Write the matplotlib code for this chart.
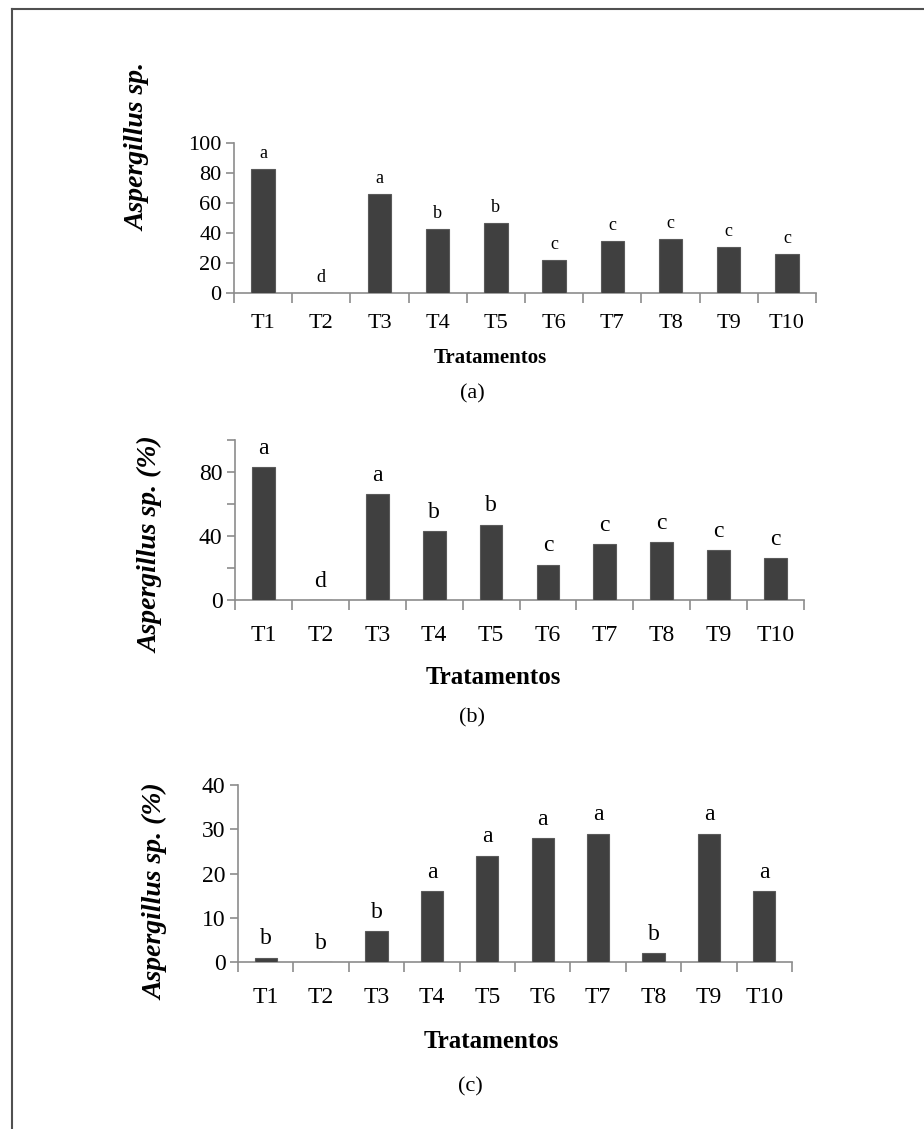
import numpy as np
import matplotlib.pyplot as plt
from matplotlib.lines import Line2D

# treatments
treatments = ['T1', 'T2', 'T3', 'T4', 'T5', 'T6', 'T7', 'T8', 'T9', 'T10']

# panel (a)
values_a = [83, 0, 66, 43, 47, 22, 35, 36, 31, 26]
letters_a = ['a', 'd', 'a', 'b', 'b', 'c', 'c', 'c', 'c', 'c']

# panel (b)
values_b = [83, 0, 66, 43, 47, 22, 35, 36, 31, 26]
letters_b = ['a', 'd', 'a', 'b', 'b', 'c', 'c', 'c', 'c', 'c']

# panel (c)
values_c = [1, 0, 7, 16, 24, 28, 29, 2, 29, 16]
letters_c = ['b', 'b', 'b', 'a', 'a', 'a', 'a', 'b', 'a', 'a']

W, H = 924, 1129
fig = plt.figure(figsize=(W / 100, H / 100), dpi=100)
plt.rcParams['font.family'] = 'Liberation Serif'

bar_color = '#404040'
axis_color = '#8c8c8c'


def px_axes(left, right, top, bottom):
    return fig.add_axes([left / W, 1 - bottom / H, (right - left) / W, (bottom - top) / H])


def ftext(x, y, s, **kw):
    fig.text(x / W, 1 - y / H, s, ha='center', va='center', **kw)


def panel(ax, values, letters, ymax, step, labeled, tick_fs, letter_fs, letter_off, pad):
    x = np.arange(len(treatments))
    ax.bar(x, values, width=0.4, color=bar_color, edgecolor='#5a5a5a', linewidth=0.8, zorder=3)
    for xi, v, l in zip(x, values, letters):
        ax.annotate(l, (xi, v), xytext=(0, letter_off), textcoords='offset points',
                    ha='center', va='bottom', fontsize=letter_fs)
    ax.set_xlim(-0.5, len(treatments) - 0.5)
    ax.set_ylim(0, ymax)
    for side in ['top', 'right']:
        ax.spines[side].set_visible(False)
    for side in ['left', 'bottom']:
        ax.spines[side].set_color(axis_color)
        ax.spines[side].set_linewidth(1.2)
    ax.set_xticks(np.arange(-0.5, len(treatments), 1.0))
    ax.set_xticklabels([])
    ax.set_xticks(x, minor=True)
    ax.set_xticklabels(treatments, minor=True, fontsize=tick_fs)
    ax.tick_params(axis='x', which='major', length=7, color=axis_color, width=1.2)
    ax.tick_params(axis='x', which='minor', length=0, pad=pad)
    ticks = np.arange(0, ymax + 0.1, step)
    ax.set_yticks(ticks)
    ax.set_yticklabels([f'{t:g}' if t in labeled else '' for t in ticks], fontsize=tick_fs)
    ax.tick_params(axis='y', length=6, color=axis_color, width=1.2, pad=3)


# (a)
ax1 = px_axes(234, 816, 143, 293)
panel(ax1, values_a, letters_a, 100, 20, [0, 20, 40, 60, 80, 100], 16, 13, 5, 15)
ftext(138, 147, 'Aspergillus sp.', rotation=90, fontsize=20, fontweight='bold', style='italic')
ftext(490, 358, 'Tratamentos', fontsize=15, fontweight='bold')
ftext(472, 394, '(a)', fontsize=16)

# (b)
ax2 = px_axes(235, 804, 440, 600)
panel(ax2, values_b, letters_b, 100, 20, [0, 40, 80], 17, 17, 6, 18)
ftext(151, 545, 'Aspergillus sp. (%)', rotation=90, fontsize=20, fontweight='bold', style='italic')
ftext(493, 678, 'Tratamentos', fontsize=18, fontweight='bold')
ftext(472, 718, '(b)', fontsize=16)

# (c)
ax3 = px_axes(238, 792, 785, 962)
panel(ax3, values_c, letters_c, 40, 10, [0, 10, 20, 30, 40], 17, 17, 6, 18)
ftext(156, 892, 'Aspergillus sp. (%)', rotation=90, fontsize=20, fontweight='bold', style='italic')
ftext(491, 1042, 'Tratamentos', fontsize=18, fontweight='bold')
ftext(470, 1087, '(c)', fontsize=16)

# outer frame (top and left only)
fig.add_artist(Line2D([12 / W, 12 / W], [0, 1 - 9 / H], color='#505050', linewidth=1.5))
fig.add_artist(Line2D([12 / W, 1], [1 - 9 / H, 1 - 9 / H], color='#505050', linewidth=1.5))

fig.savefig('out.png', dpi=100)
